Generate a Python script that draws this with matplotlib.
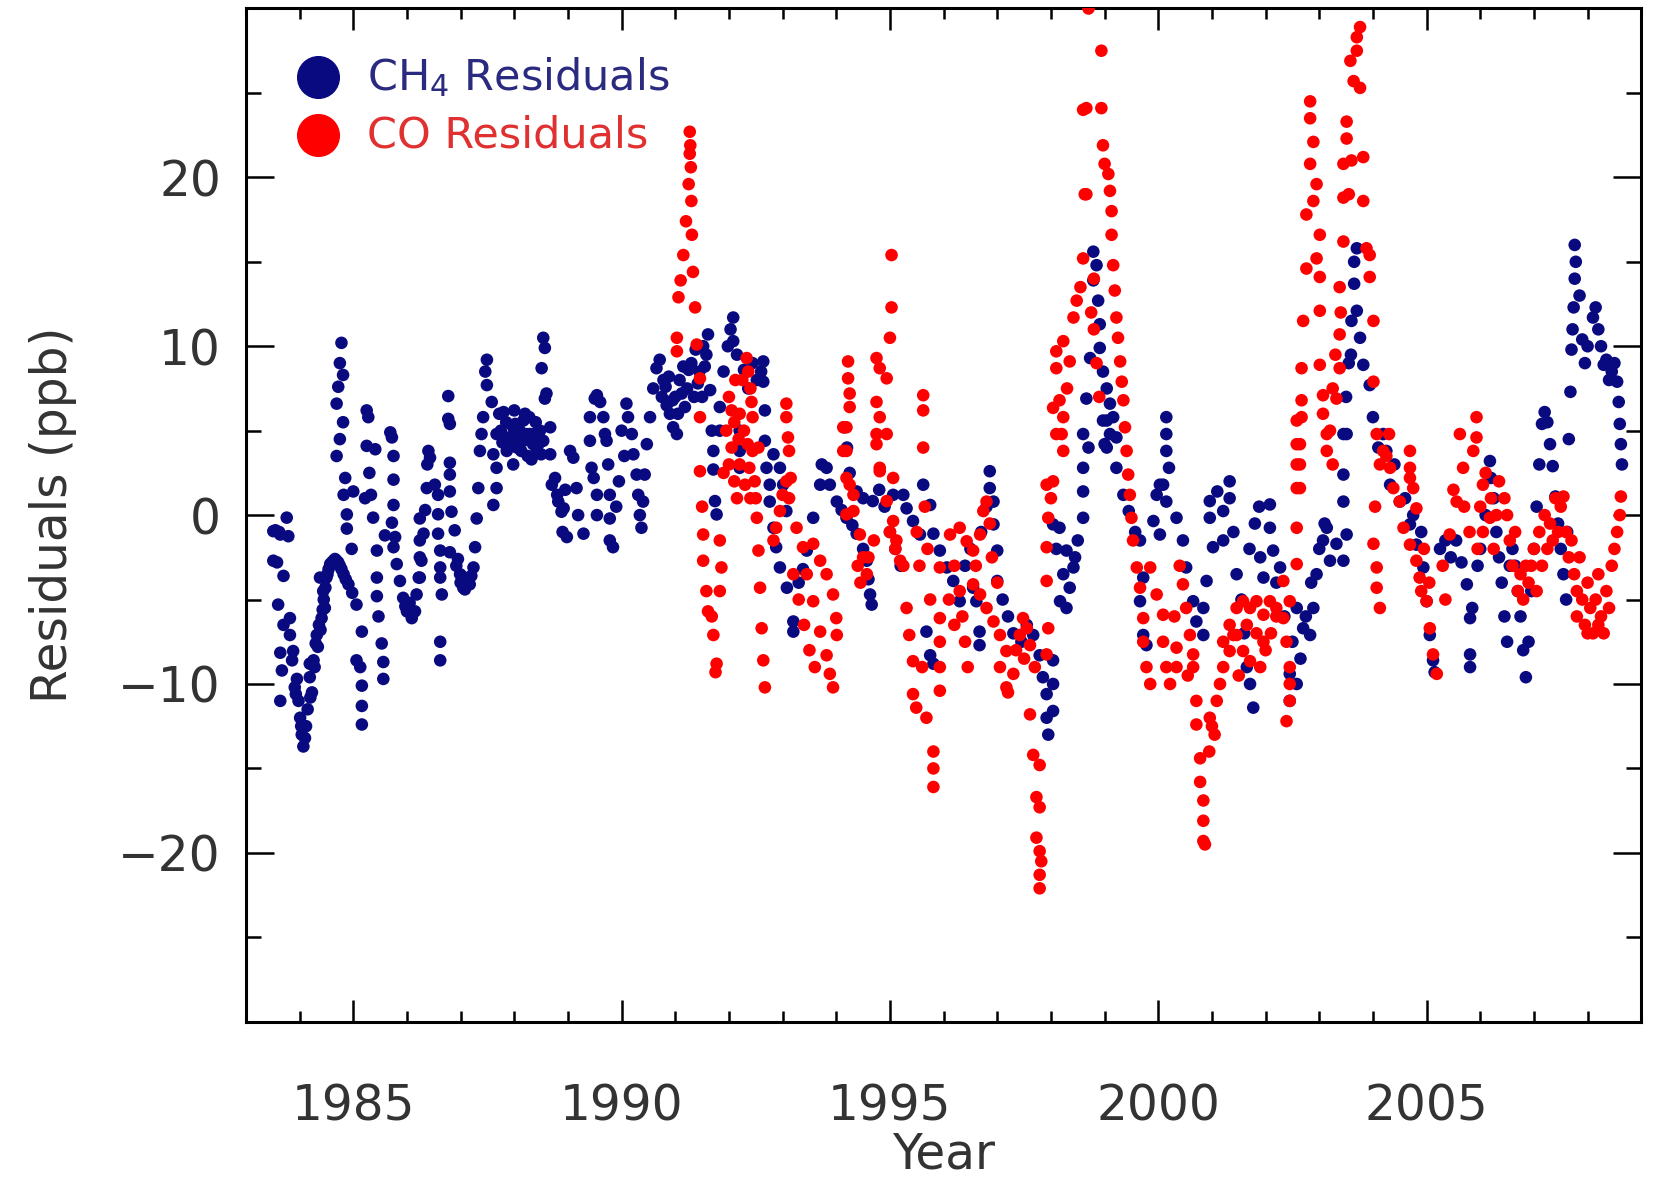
import numpy as np
import matplotlib
matplotlib.use("Agg")
import matplotlib.pyplot as plt

# (decimal year, residual in ppb)
ch4_points = [
    (1983.51, -0.95), (1983.55, -0.9), (1983.62, -1.0), (1983.64, -1.15), (1983.76, -0.15), (1983.79, -1.25),
    (1983.51, -2.7), (1983.58, -2.8), (1983.70, -3.6), (1983.60, -5.3), (1983.70, -6.5), (1983.82, -6.1),
    (1983.82, -7.1), (1983.88, -8.05), (1983.64, -8.15), (1983.67, -9.2), (1983.64, -11.0), (1983.95, -9.7),
    (1983.98, -11.0), (1984.01, -12.0), (1984.04, -13.0), (1984.07, -13.7), (1984.10, -13.2),
    (1983.86, -8.6), (1983.91, -10.2), (1983.93, -10.6), (1984.03, -12.5),
    (1984.12, -12.5), (1984.15, -11.5), (1984.20, -10.8), (1984.28, -9.0), (1984.34, -7.8), (1984.39, -6.8),
    (1984.43, -5.6), (1984.48, -4.3), (1984.52, -3.5), (1984.60, -2.8), (1984.66, -2.6), (1984.72, -2.8),
    (1984.78, -3.2),
    (1984.19, -9.6), (1984.19, -8.8), (1984.23, -10.5), (1984.26, -8.6), (1984.30, -7.6), (1984.32, -7.1),
    (1984.36, -6.5), (1984.41, -6.1), (1984.45, -5.0), (1984.50, -3.7), (1984.54, -3.2), (1984.57, -2.9),
    (1984.63, -2.7), (1984.69, -2.7), (1984.75, -3.0), (1984.82, -3.5), (1984.86, -3.8), (1984.91, -4.1),
    (1984.98, -4.6), (1985.06, -5.3), (1985.06, -8.6), (1985.16, -6.9), (1985.16, -10.1), (1985.16, -11.3),
    (1985.16, -12.4), (1985.13, -9.0), (1984.38, -3.7), (1984.44, -4.5), (1984.47, -5.5),
    (1984.78, 10.2), (1984.75, 9.0), (1984.81, 8.3), (1984.72, 7.6), (1984.69, 6.6), (1984.81, 5.5),
    (1984.75, 4.5), (1984.69, 3.5), (1984.85, 2.2), (1984.82, 1.2), (1985.00, 1.4), (1985.22, 1.0),
    (1984.88, 0.04), (1984.88, -0.8), (1984.97, -2.0),
    (1985.25, 6.2), (1985.28, 5.8), (1985.25, 4.1), (1985.41, 3.9), (1985.30, 2.5), (1985.33, 1.2),
    (1985.37, -0.15), (1985.44, -2.1), (1985.44, -3.7), (1985.44, -4.8), (1985.47, -6.0), (1985.53, -7.6),
    (1985.56, -8.7), (1985.56, -9.7),
    (1985.72, 4.6), (1985.69, 4.9), (1985.75, 3.5), (1985.75, 2.1), (1985.75, 0.6), (1985.72, -0.45),
    (1985.59, -1.2), (1985.78, -1.3), (1985.75, -1.9), (1985.81, -2.9), (1985.87, -3.9), (1985.93, -4.9),
    (1986.00, -5.7), (1986.09, -6.1), (1986.15, -5.7), (1986.05, -5.2), (1985.97, -5.4),
    (1986.18, -4.7), (1986.22, -3.7), (1986.27, -2.7), (1986.31, -1.1), (1986.34, 0.3), (1986.37, 1.6),
    (1986.38, 3.0), (1986.40, 3.8), (1986.43, 3.4), (1986.24, -0.2), (1986.24, -1.5), (1986.24, -2.5),
    (1986.24, -3.7),
    (1986.52, 1.8), (1986.58, 1.2), (1986.58, 0.05), (1986.58, -1.1), (1986.62, -2.1), (1986.62, -3.1),
    (1986.62, -3.7), (1986.65, -4.7), (1986.62, -7.5), (1986.62, -8.6), (1986.77, 7.05), (1986.77, 5.7),
    (1986.80, 5.4), (1986.80, 3.1), (1986.80, 2.4), (1986.80, 1.4), (1986.83, 0.2), (1986.89, -0.9),
    (1986.80, -2.2),
    (1986.92, -3.0), (1986.95, -2.6), (1986.99, -3.5), (1987.00, -4.0), (1987.02, -3.6), (1987.05, -4.3),
    (1987.08, -4.4), (1987.10, -3.8), (1987.13, -3.9), (1987.17, -4.1), (1987.20, -3.6),
    (1987.24, -3.1), (1987.27, -1.9), (1987.30, -0.2), (1987.33, 1.6), (1987.36, 3.8), (1987.39, 4.8),
    (1987.42, 5.8), (1987.46, 8.5), (1987.49, 7.7), (1987.49, 9.2),
    (1987.61, 0.6), (1987.67, 1.6), (1987.67, 2.8), (1987.61, 3.6), (1987.67, 4.8), (1987.58, 6.7),
    (1987.72, 6.0), (1987.75, 5.0), (1987.78, 4.3), (1987.80, 6.1), (1987.85, 5.5), (1987.86, 3.8),
    (1987.90, 4.6), (1987.95, 4.4), (1987.98, 5.2), (1987.98, 3.0), (1988.00, 6.2), (1988.02, 5.4),
    (1988.05, 4.0), (1988.08, 4.6), (1988.10, 5.0), (1988.13, 3.8), (1988.17, 4.4), (1988.17, 5.6),
    (1988.20, 6.0), (1988.22, 4.8), (1988.25, 3.5), (1988.28, 5.8), (1988.29, 4.8), (1988.32, 3.3),
    (1988.35, 4.2), (1988.38, 4.8), (1988.40, 5.5), (1988.42, 3.8), (1988.45, 4.2), (1988.48, 5.0),
    (1988.50, 3.6), (1988.54, 4.4),
    (1988.54, 10.5), (1988.57, 9.9), (1988.51, 8.7), (1988.60, 7.2), (1988.57, 6.9), (1988.67, 5.2),
    (1988.67, 3.6), (1988.70, 1.8), (1988.76, 2.2), (1988.80, 1.2), (1988.82, 0.8), (1988.88, 0.2),
    (1988.92, 0.4), (1988.95, 1.5), (1988.90, -1.0), (1988.98, -1.3), (1989.04, 3.8), (1989.10, 3.4),
    (1989.16, 1.6), (1989.19, 0.0), (1989.29, -1.1),
    (1989.41, 5.8), (1989.41, 4.4), (1989.44, 2.8), (1989.48, 2.2), (1989.54, 1.2), (1989.54, 0.0),
    (1989.50, 6.9), (1989.54, 7.1), (1989.60, 6.7), (1989.66, 5.8), (1989.69, 4.8), (1989.72, 4.4),
    (1989.75, 3.0), (1989.78, 1.2), (1989.78, -0.2), (1989.78, -1.5), (1989.84, -1.9),
    (1989.90, 0.5), (1989.95, 2.0), (1990.00, 5.0), (1990.05, 3.5), (1990.09, 6.6), (1990.12, 5.8),
    (1990.19, 4.8), (1990.22, 3.6), (1990.28, 2.4), (1990.31, 1.2), (1990.34, 0.0), (1990.37, -0.75),
    (1990.40, 0.8), (1990.43, 2.4), (1990.47, 4.2), (1990.53, 5.8), (1990.59, 7.5), (1990.65, 8.7),
    (1990.71, 9.2),
    (1990.75, 7.0), (1990.78, 8.0), (1990.82, 7.6), (1990.84, 6.5), (1990.88, 8.2), (1990.90, 6.0),
    (1990.95, 6.8), (1990.96, 5.2), (1991.03, 4.8), (1991.00, 7.0), (1991.05, 6.0), (1991.08, 8.0),
    (1991.12, 7.2), (1991.15, 8.8), (1991.18, 6.4), (1991.22, 7.5), (1991.25, 8.6), (1991.30, 9.0),
    (1991.35, 7.0), (1991.38, 9.8), (1991.42, 7.8), (1991.45, 8.5), (1991.50, 7.0), (1991.52, 10.0),
    (1991.55, 8.8), (1991.58, 9.5), (1991.61, 10.7), (1991.65, 7.4), (1991.68, 5.0), (1991.71, 3.8),
    (1991.71, 2.7), (1991.74, 0.83), (1991.77, 0.04), (1991.83, 6.4), (1991.83, 5.0), (1991.90, 8.5),
    (1991.98, 10.0), (1992.03, 11.0), (1992.08, 11.7), (1992.08, 10.3), (1992.15, 9.5), (1992.20, 5.0),
    (1992.20, 3.8), (1992.20, 2.8), (1992.28, 8.6), (1992.36, 7.5), (1992.44, 9.0), (1992.52, 8.0),
    (1992.60, 8.5), (1992.64, 9.1), (1992.64, 7.9), (1992.67, 6.2), (1992.67, 4.4), (1992.70, 2.8),
    (1992.76, 1.8), (1992.76, 0.8), (1992.83, -0.75), (1992.88, -1.9), (1992.95, -3.1), (1993.08, -4.3),
    (1993.20, -6.3), (1993.20, -6.9), (1992.83, 3.6), (1992.95, 2.8), (1993.01, 1.8), (1993.07, 0.24),
    (1993.30, -4.0), (1993.38, -3.2), (1993.45, -2.1), (1993.57, -0.16), (1993.70, 1.8), (1993.73, 3.0),
    (1993.82, 2.8), (1993.88, 1.8), (1994.01, 0.8), (1994.10, 0.3), (1994.19, -0.16), (1994.30, -0.6),
    (1994.38, -1.1), (1994.50, -2.0), (1994.57, -2.7), (1994.60, -3.8), (1994.63, -4.7), (1994.66, -5.3),
    (1994.15, 5.2), (1994.20, 4.0), (1994.25, 2.5), (1994.38, 1.4), (1994.50, 1.0), (1994.68, 0.83),
    (1994.80, 1.5), (1994.90, 0.5), (1995.06, 1.2), (1995.25, 1.2), (1995.31, 0.4), (1995.43, -0.35),
    (1995.56, -1.15), (1995.62, 1.8), (1995.75, 0.6), (1995.81, -1.1), (1995.93, -2.1), (1996.06, -3.1),
    (1996.18, -3.9), (1996.30, -5.1), (1995.68, -6.9), (1995.75, -8.3), (1995.81, -8.8), (1995.00, -1.0),
    (1995.10, -2.0), (1995.20, -3.0),
    (1996.40, -3.0), (1996.50, -2.0), (1996.55, -4.3), (1996.61, -5.1), (1996.67, -6.9), (1996.67, -7.7),
    (1996.70, -1.0), (1996.80, 0.5), (1996.86, 2.6), (1996.86, 1.6), (1996.93, 0.8), (1996.93, -0.55),
    (1997.00, -2.1), (1997.00, -3.9), (1997.10, -5.0), (1997.20, -6.0), (1997.30, -7.0), (1997.45, -7.5),
    (1997.55, -6.5), (1997.67, -7.1), (1997.79, -8.3), (1997.85, -9.6), (1997.92, -10.6), (1997.92, -12.0),
    (1997.95, -13.0), (1998.04, -8.6), (1998.04, -10.0), (1998.04, -11.6),
    (1998.04, -0.55), (1998.10, -2.0), (1998.16, -0.75), (1998.17, -5.1), (1998.23, -3.5), (1998.29, -2.1),
    (1998.29, -5.5), (1998.35, -4.3), (1998.42, -3.1), (1998.45, -2.5), (1998.50, -1.5), (1998.60, -0.16),
    (1998.60, 1.4), (1998.60, 2.8), (1998.60, 4.8), (1998.70, 4.0), (1998.66, 6.9), (1998.73, 9.3),
    (1998.79, 15.6), (1998.85, 14.8), (1998.79, 13.9), (1998.88, 12.7), (1998.91, 11.3), (1998.91, 9.9),
    (1998.97, 8.5), (1999.04, 7.5), (1999.10, 6.6), (1998.97, 5.6), (1999.04, 5.6), (1999.00, 4.2),
    (1999.10, 4.8), (1999.04, 4.0), (1999.16, 5.8), (1999.22, 4.6), (1999.22, 2.8), (1999.35, 1.2),
    (1999.45, 0.24), (1999.57, -1.0), (1999.66, -1.5), (1999.72, -3.7), (1999.66, -5.1), (1999.72, -7.1),
    (1999.78, -7.7),
    (1999.91, -0.35), (1999.97, 1.2), (2000.03, 1.8), (2000.03, -1.15), (2000.09, 1.8), (2000.15, 5.8),
    (2000.15, 4.8), (2000.15, 3.8), (2000.20, 2.8), (2000.15, 0.8), (2000.34, -0.16), (2000.46, -1.5),
    (2000.52, -3.1), (2000.65, -5.1), (2000.71, -6.3), (2000.90, -3.9), (2000.84, -5.5), (2000.84, -7.1),
    (2000.96, 0.83), (2000.96, -0.16), (2001.02, -1.9), (2001.10, 1.4), (2001.21, 0.24), (2001.21, -1.5),
    (2001.33, 2.0), (2001.33, 1.0), (2001.40, -1.0), (2001.46, -3.5), (2001.55, -5.0), (2001.60, -7.0),
    (2001.65, -9.0), (2001.71, -10.0), (2001.77, -11.4), (2001.70, -2.0), (2001.80, -0.5), (2001.88, 0.5),
    (2001.90, -2.5), (2001.96, -3.7),
    (2002.08, 0.63), (2002.08, -0.75), (2002.14, -2.1), (2002.20, -4.0), (2002.27, -3.1), (2002.35, -6.0),
    (2002.45, -9.4), (2002.45, -11.0), (2002.50, -7.5), (2002.58, -5.5), (2002.58, -10.0), (2002.65, -8.5),
    (2002.70, -6.7), (2002.75, -6.0), (2002.83, -7.1), (2002.85, -4.0), (2002.89, -5.5), (2002.95, -3.5),
    (2003.00, -2.0), (2003.07, -1.5), (2003.10, -0.5), (2003.14, -0.75), (2003.20, -2.7), (2003.32, -1.7),
    (2003.45, -2.7),
    (2003.45, 0.8), (2003.45, 2.4), (2003.45, 4.8), (2003.51, -1.15), (2003.51, 4.8), (2003.50, 7.0),
    (2003.55, 9.0), (2003.59, 9.5), (2003.60, 11.5), (2003.65, 13.7), (2003.65, 15.0), (2003.70, 15.8),
    (2003.70, 12.1), (2003.76, 10.5), (2003.82, 8.9), (2003.94, 7.7), (2004.00, 5.8), (2004.10, 4.0),
    (2004.19, 4.8), (2004.25, 3.8), (2004.32, 1.8), (2004.40, 3.0), (2004.50, 0.8), (2004.60, 1.0),
    (2004.69, -0.55), (2004.75, 0.0), (2004.81, -1.75), (2004.90, -1.0), (2004.94, -3.1), (2005.00, -5.1),
    (2005.06, -7.1), (2005.12, -8.6), (2005.15, -9.3),
    (2005.25, -2.0), (2005.35, -1.5), (2005.45, -2.5), (2005.55, -1.5), (2005.65, -2.8), (2005.75, -4.1),
    (2005.81, -6.1), (2005.81, -8.25), (2005.81, -9.0), (2005.85, -5.5), (2005.95, -3.0), (2006.00, -2.0),
    (2006.10, 0.0), (2006.18, 3.2), (2006.20, 2.2), (2006.25, 1.0), (2006.30, -1.0), (2006.35, -2.5),
    (2006.40, -4.0), (2006.45, -6.0), (2006.50, -7.5), (2006.55, -3.0), (2006.60, -2.0), (2006.65, -3.0),
    (2006.70, -4.5), (2006.75, -6.0), (2006.80, -8.0), (2006.85, -9.6), (2006.90, -7.5), (2006.95, -4.5),
    (2007.00, -2.0), (2007.05, 0.5), (2007.10, 3.0), (2007.15, 5.4), (2007.20, 6.1), (2007.25, 5.5),
    (2007.30, 4.2), (2007.35, 2.9), (2007.40, 1.1), (2007.45, -0.5), (2007.50, -2.0), (2007.55, -3.5),
    (2007.60, -5.0), (2007.62, -1.0), (2007.65, 4.5), (2007.68, 7.3), (2007.70, 9.8), (2007.72, 11.0),
    (2007.74, 12.3), (2007.76, 14.0), (2007.76, 16.0), (2007.78, 15.0), (2007.85, 13.0), (2007.90, 10.4),
    (2007.95, 9.0), (2008.00, 10.0), (2008.10, 11.7), (2008.15, 12.3), (2008.20, 11.0), (2008.25, 10.0),
    (2008.30, 8.9), (2008.35, 9.2), (2008.40, 8.0), (2008.45, 8.5), (2008.50, 9.0), (2008.55, 7.9),
    (2008.58, 6.7), (2008.60, 5.4), (2008.62, 4.2), (2008.64, 3.0),
]

co_points = [
    (1991.03, 10.5), (1991.03, 9.7), (1991.06, 12.9), (1991.10, 13.9), (1991.15, 15.4), (1991.20, 17.4),
    (1991.25, 19.6), (1991.27, 21.4), (1991.27, 22.7), (1991.28, 21.9), (1991.29, 20.6), (1991.30, 18.6),
    (1991.31, 16.6), (1991.33, 14.4), (1991.37, 12.3), (1991.40, 10.1), (1991.46, 8.1), (1991.46, 5.8),
    (1991.46, 2.6), (1991.50, 0.5), (1991.52, -1.15), (1991.52, -2.7), (1991.58, -4.5), (1991.61, -5.7),
    (1991.68, -6.0), (1991.71, -7.1), (1991.77, -8.8), (1991.75, -9.3), (1991.83, -1.5), (1991.86, -3.1),
    (1991.83, -4.5),
    (1991.90, 2.5), (1991.95, 5.0), (1992.00, 7.0), (1992.00, 3.0), (1992.05, 4.0), (1992.05, 6.2),
    (1992.10, 2.0), (1992.10, 5.5), (1992.12, 8.0), (1992.15, 1.0), (1992.18, 4.5), (1992.20, 6.0),
    (1992.20, 3.0), (1992.25, 8.0), (1992.28, 5.0), (1992.30, 1.8), (1992.33, 9.3), (1992.35, 4.2),
    (1992.36, 8.5), (1992.38, 2.8), (1992.40, 7.5), (1992.40, 1.0), (1992.42, 6.7), (1992.44, 5.8),
    (1992.44, 3.8), (1992.48, 2.0), (1992.50, 1.0), (1992.55, 4.0), (1992.52, -0.16), (1992.55, -2.1),
    (1992.58, -4.3), (1992.61, -6.7), (1992.64, -8.6), (1992.67, -10.2),
    (1992.83, -1.5), (1992.88, -0.75), (1992.95, 0.24), (1993.00, 1.2), (1993.07, 2.0), (1993.07, 6.6),
    (1993.07, 5.8), (1993.10, 4.6), (1993.12, 3.8), (1993.15, 2.2), (1993.12, 1.0), (1993.20, -3.5),
    (1993.26, -0.75), (1993.30, -5.0), (1993.38, -1.9), (1993.40, -6.5), (1993.45, -3.5), (1993.50, -8.0),
    (1993.57, -5.1), (1993.57, -1.7), (1993.60, -9.0), (1993.70, -6.9), (1993.70, -2.7), (1993.82, -8.3),
    (1993.82, -3.5), (1993.88, -9.4), (1993.94, -10.2), (1993.94, -4.7), (1994.00, -6.1), (1994.01, -7.1),
    (1994.13, 5.2), (1994.19, 3.8), (1994.25, 1.8), (1994.32, 0.24), (1994.44, -1.15), (1994.50, -2.5),
    (1994.57, -3.5), (1994.40, -3.0), (1994.45, -4.0), (1994.22, 9.1), (1994.22, 8.1), (1994.25, 7.2),
    (1994.25, 6.4), (1994.19, 5.2), (1994.13, 3.8), (1994.19, 2.2), (1994.32, 1.2), (1994.19, 0.04),
    (1994.60, -2.5), (1994.70, -1.5), (1994.75, 9.3), (1994.81, 8.7), (1994.94, 8.1), (1994.75, 6.7),
    (1994.81, 5.8), (1994.94, 4.8), (1994.75, 4.2), (1994.81, 2.6), (1995.06, 2.2), (1994.75, 4.8),
    (1994.81, 2.8), (1994.94, 0.83), (1995.06, -0.35), (1995.12, -1.5), (1995.19, -2.7), (1995.03, 15.4),
    (1995.03, 12.3), (1995.00, 10.5), (1995.00, -1.0), (1995.10, -2.0), (1995.25, -3.0), (1995.62, 7.1),
    (1995.62, 6.2), (1995.62, 4.0),
    (1995.31, -5.5), (1995.36, -7.1), (1995.43, -8.65), (1995.43, -10.6), (1995.49, -11.4), (1995.50, -1.0),
    (1995.55, -3.0), (1995.60, -9.0), (1995.65, 0.5), (1995.68, -12.0), (1995.70, -2.0), (1995.75, -5.0),
    (1995.81, -14.0), (1995.81, -15.0), (1995.81, -16.1), (1995.93, -3.1), (1995.93, -6.1), (1995.93, -7.5),
    (1995.93, -9.0), (1995.93, -10.4),
    (1996.10, -5.0), (1996.12, -1.15), (1996.20, -3.0), (1996.20, -6.5), (1996.30, -0.75), (1996.30, -4.5),
    (1996.35, -6.0), (1996.40, -7.5), (1996.43, -1.55), (1996.45, -9.0), (1996.55, -2.1), (1996.55, -4.1),
    (1996.60, -3.0), (1996.68, -1.15), (1996.68, -4.7), (1996.74, 0.24), (1996.80, 0.8), (1996.80, -5.5),
    (1996.86, -0.5), (1996.90, -2.5), (1996.93, -6.3), (1997.00, -4.0), (1997.05, -7.1), (1997.05, -9.0),
    (1997.17, -8.05), (1997.17, -10.2), (1997.20, -10.5), (1997.30, -9.4), (1997.35, -8.0), (1997.42, -7.1),
    (1997.48, -6.1), (1997.50, -8.5), (1997.55, -6.7), (1997.61, -7.7), (1997.70, -9.0),
    (1997.61, -11.8), (1997.67, -14.2), (1997.79, -14.8), (1997.73, -16.7), (1997.79, -17.3),
    (1997.73, -19.1), (1997.79, -19.9), (1997.82, -20.5), (1997.79, -21.3), (1997.79, -22.1),
    (1997.92, 1.8), (1997.95, -0.16), (1997.92, -1.9), (1997.92, -3.9), (1997.95, -6.7), (1997.92, -8.25),
    (1998.00, 1.0), (1998.04, 2.0), (1998.04, 6.35), (1998.10, 4.8), (1998.10, 8.7), (1998.10, 9.7),
    (1998.16, 6.8), (1998.20, 4.8), (1998.23, 3.8), (1998.23, 5.8), (1998.23, 10.3), (1998.30, 7.5),
    (1998.35, 9.1), (1998.42, 11.7), (1998.48, 12.7), (1998.55, 13.5),
    (1998.60, 15.2), (1998.60, 24.0), (1998.63, 19.0), (1998.66, 24.1), (1998.66, 19.0), (1998.70, 30.0),
    (1998.75, 12.0), (1998.80, 14.0), (1998.80, 11.0), (1998.85, 9.0), (1998.90, 7.0), (1998.94, 27.5),
    (1998.94, 24.1), (1998.97, 21.9), (1999.00, 20.8), (1999.07, 20.2), (1999.10, 19.2), (1999.13, 18.0),
    (1999.13, 16.6), (1999.16, 14.8), (1999.19, 13.3), (1999.22, 11.7), (1999.25, 10.5), (1999.29, 9.1),
    (1999.32, 7.9), (1999.35, 6.8), (1999.38, 5.2), (1999.41, 3.8), (1999.44, 2.4), (1999.47, 1.2),
    (1999.50, -0.16), (1999.53, -1.5), (1999.60, -3.1), (1999.66, -4.3), (1999.72, -6.1), (1999.72, -7.5),
    (1999.78, -9.0), (1999.85, -10.0), (1999.85, -3.1), (1999.97, -4.7), (2000.09, -5.9), (2000.09, -7.5),
    (2000.15, -9.0), (2000.22, -10.0),
    (2000.30, -6.0), (2000.34, -7.85), (2000.34, -9.0), (2000.40, -3.0), (2000.46, -4.1), (2000.52, -5.5),
    (2000.55, -9.5), (2000.59, -7.1), (2000.65, -8.25), (2000.65, -9.0), (2000.71, -11.0), (2000.71, -12.4),
    (2000.78, -14.4), (2000.78, -15.8), (2000.84, -16.9), (2000.84, -18.1), (2000.84, -19.3),
    (2000.87, -19.5), (2000.95, -14.0), (2000.96, -12.0), (2001.00, -12.5), (2001.05, -13.0),
    (2001.09, -11.0), (2001.15, -10.0), (2001.21, -9.0), (2001.21, -7.5), (2001.33, -8.05), (2001.33, -6.5),
    (2001.40, -7.1), (2001.46, -5.5), (2001.46, -7.1), (2001.50, -9.5), (2001.58, -5.1), (2001.58, -8.05),
    (2001.65, -6.5), (2001.71, -5.5), (2001.71, -8.65), (2001.83, -5.1), (2001.83, -7.0), (2001.90, -9.0),
    (2001.96, -5.9), (2001.96, -7.5), (2002.00, -8.0), (2002.08, -5.1), (2002.10, -7.0), (2002.20, -5.5),
    (2002.20, -6.0), (2002.33, -6.1), (2002.33, -3.9), (2002.39, -7.5), (2002.45, -5.1), (2002.45, -9.0),
    (2002.45, -10.0), (2002.45, -11.0), (2002.39, -12.2),
    (2002.58, 5.6), (2002.58, 4.2), (2002.58, 3.0), (2002.58, 1.6), (2002.58, -0.75), (2002.58, -2.9),
    (2002.64, 4.2), (2002.64, 3.0), (2002.64, 1.6), (2002.67, 5.8), (2002.67, 6.8), (2002.67, 8.7),
    (2002.70, 11.5), (2002.76, 14.6), (2002.76, 17.8), (2002.83, 24.5), (2002.83, 23.5), (2002.89, 22.1),
    (2002.83, 20.8), (2002.95, 19.6), (2002.89, 18.6), (2003.01, 16.6), (2002.95, 15.2), (2003.01, 14.1),
    (2003.01, 12.1), (2003.01, 8.9), (2003.07, 7.1), (2003.07, 6.0), (2003.14, 4.8), (2003.14, 3.8),
    (2003.20, 5.0), (2003.25, 7.5), (2003.25, 3.0), (2003.30, 9.5), (2003.32, 6.9), (2003.38, 13.5),
    (2003.38, 10.7), (2003.38, 8.7), (2003.40, 12.0), (2003.45, 20.8), (2003.45, 18.8), (2003.45, 16.2),
    (2003.51, 23.3), (2003.51, 22.3), (2003.55, 19.0), (2003.58, 26.9), (2003.60, 21.0), (2003.64, 25.7),
    (2003.70, 28.3), (2003.70, 27.5), (2003.76, 25.3), (2003.76, 28.9), (2003.82, 21.2), (2003.82, 18.6),
    (2003.88, 15.8), (2003.94, 15.4), (2003.94, 14.1), (2004.01, 11.5), (2004.01, 7.9), (2004.07, 4.8),
    (2004.13, 3.0), (2004.04, 0.5), (2004.01, -1.7), (2004.07, -3.1), (2004.07, -4.3), (2004.13, -5.5),
    (2004.19, 3.8), (2004.25, 3.5), (2004.30, 4.8), (2004.32, 2.8), (2004.38, 1.6), (2004.50, 0.8),
    (2004.57, -0.75), (2004.69, -1.75), (2004.69, 2.8), (2004.69, 3.8), (2004.69, 2.2), (2004.75, 1.6),
    (2004.81, 0.4), (2004.81, -2.7), (2004.87, -3.7), (2004.90, -4.5), (2004.95, -2.0), (2005.00, -5.1),
    (2005.05, -4.0), (2005.06, -6.7), (2005.12, -8.25), (2005.19, -9.4), (2005.30, -3.0), (2005.35, -5.0),
    (2005.43, -1.15), (2005.50, 1.5), (2005.56, 0.8), (2005.62, 4.8), (2005.68, 2.8), (2005.70, 0.5),
    (2005.80, -1.0), (2005.87, 3.8), (2005.93, 5.8), (2005.93, 4.6), (2005.95, -2.0), (2006.00, 0.5),
    (2006.05, 1.8), (2006.05, -1.0), (2006.10, 2.5), (2006.18, -0.16), (2006.20, 1.0), (2006.25, -2.0),
    (2006.30, 0.0), (2006.35, 2.0), (2006.45, 1.0), (2006.50, 0.0), (2006.55, -1.5), (2006.60, -3.0),
    (2006.65, -1.0), (2006.70, -4.5), (2006.75, -3.5), (2006.80, -5.0), (2006.85, -3.0), (2006.90, -4.0),
    (2006.95, -3.0), (2007.00, -2.0), (2007.05, -4.5), (2007.10, -1.0), (2007.15, -3.0), (2007.20, 0.0),
    (2007.25, -2.0), (2007.30, -0.5), (2007.35, -1.5), (2007.40, 1.0), (2007.45, -1.0), (2007.50, 0.5),
    (2007.55, 1.1), (2007.60, -1.0), (2007.65, -2.5), (2007.70, -1.5), (2007.75, -3.5), (2007.80, -4.5),
    (2007.80, -6.0), (2007.85, -2.5), (2007.90, -5.0), (2007.95, -6.5), (2008.00, -4.0), (2008.00, -7.0),
    (2008.05, -5.5), (2008.10, -7.0), (2008.15, -5.0), (2008.20, -3.5), (2008.20, -6.5), (2008.25, -6.0),
    (2008.30, -7.0), (2008.35, -4.5), (2008.40, -5.5), (2008.45, -3.0), (2008.50, -2.0), (2008.55, -1.0),
    (2008.60, 0.0), (2008.62, 1.1),
]

ch4_year, ch4_res = np.array(ch4_points).T
co_year, co_res = np.array(co_points).T

NAVY = "#0a0a80"
RED = "#ff0000"
TXT = "#333333"

plt.rcParams["font.family"] = ["DejaVu Sans"]

fig = plt.figure(figsize=(16.55, 11.79), dpi=100)
ax = fig.add_axes([0.1486, 0.1334, 0.8431, 0.8594])

ax.scatter(ch4_year, ch4_res, s=82, color=NAVY, edgecolors="none", zorder=2)
ax.scatter(co_year, co_res, s=82, color=RED, edgecolors="none", zorder=3)

ax.set_xlim(1983, 2009)
ax.set_ylim(-30, 30)
ax.set_xticks([1985, 1990, 1995, 2000, 2005])
ax.set_xticks(np.arange(1984, 2009, 1), minor=True)
ax.set_yticks([-20, -10, 0, 10, 20])
ax.set_yticks([-25, -15, -5, 5, 15, 25], minor=True)

ax.tick_params(axis="both", which="both", direction="in", top=True, right=True,
               colors="black", labelcolor=TXT, labelsize=35)
ax.tick_params(axis="x", which="major", length=16, width=1.8, pad=44)
ax.tick_params(axis="x", which="minor", length=8, width=1.8)
ax.tick_params(axis="y", which="major", length=20, width=1.8, pad=18)
ax.tick_params(axis="y", which="minor", length=11, width=1.8)
for sp in ax.spines.values():
    sp.set_linewidth(2.2)

ax.set_xlabel("Year", fontsize=35, color=TXT, labelpad=0)
ax.set_ylabel("Residuals (ppb)", fontsize=35, color=TXT, labelpad=30)

# legend
ax.plot([0.052], [0.932], "o", ms=30, color=NAVY, transform=ax.transAxes, clip_on=False)
ax.plot([0.052], [0.875], "o", ms=30, color=RED, transform=ax.transAxes, clip_on=False)
ax.text(0.087, 0.932, r"CH$_4$ Residuals", transform=ax.transAxes, fontsize=31,
        color="#2a2a80", va="center", ha="left")
ax.text(0.087, 0.875, "CO Residuals", transform=ax.transAxes, fontsize=31,
        color="#e03030", va="center", ha="left")

fig.savefig("out.png", dpi=100)
